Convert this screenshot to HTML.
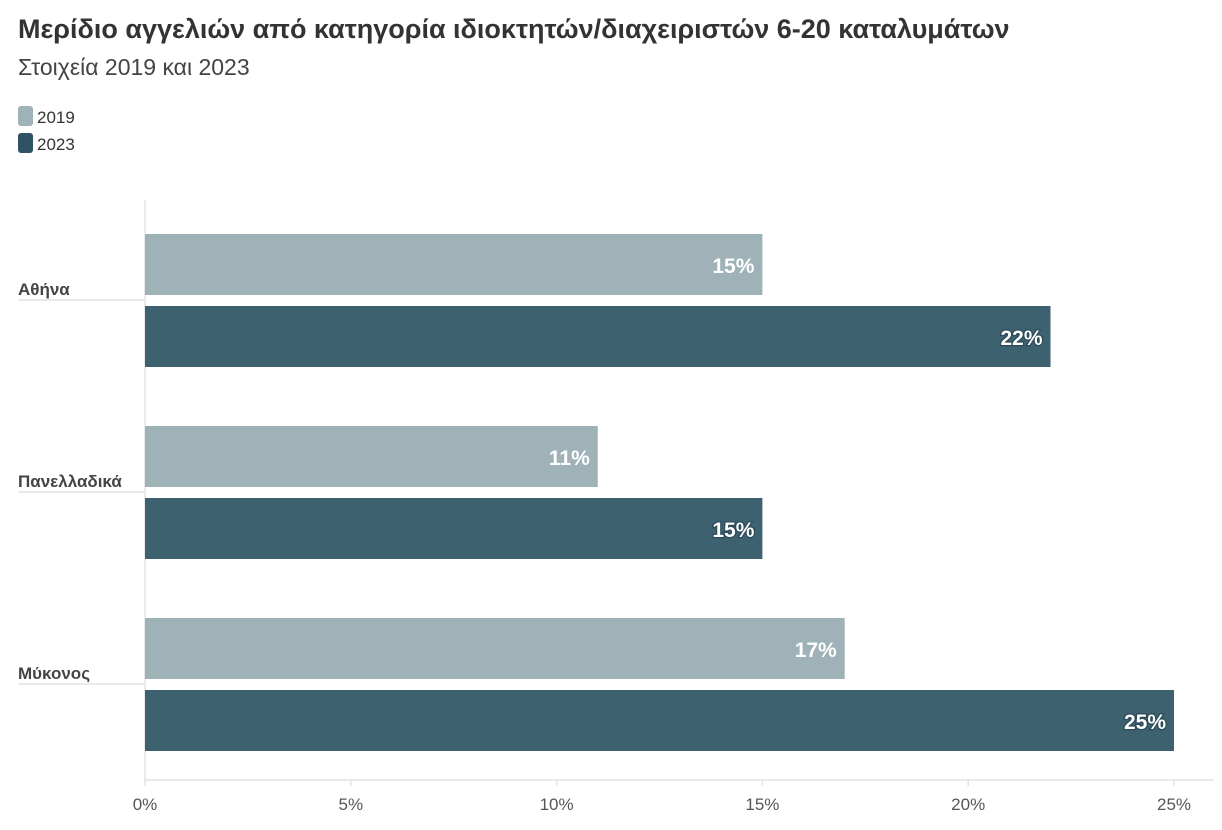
<!DOCTYPE html>
<html><head><meta charset="utf-8"><style>
body{margin:0;background:#fff;width:1222px;height:825px;overflow:hidden;font-family:"Liberation Sans","DejaVu Sans",sans-serif}
</style></head><body>
<svg width="1222" height="825" xmlns="http://www.w3.org/2000/svg">
<text x="18" y="38" font-size="27" font-weight="bold" fill="#333">Μερίδιο αγγελιών από κατηγορία ιδιοκτητών/διαχειριστών 6-20 καταλυμάτων</text>
<text x="18" y="75" font-size="23" fill="#444">Στοιχεία 2019 και 2023</text>
<g>
<rect x="18" y="106" width="15" height="20" rx="3" fill="#9fb2b7"/>
<text x="37" y="123" font-size="17" fill="#333">2019</text>
<rect x="18" y="133" width="15" height="20" rx="3" fill="#2f5264"/>
<text x="37" y="150" font-size="17" fill="#333">2023</text>
</g>
<g id="plot"></g>
</svg>
<script>
const categories=["Αθήνα","Πανελλαδικά","Μύκονος"];
const values2019=[15,11,17];
const values2023=[22,15,25];
const tickValues=[0,5,10,15,20,25];
const tickLabels=["0%","5%","10%","15%","20%","25%"];
const NS="http://www.w3.org/2000/svg";
const g=document.getElementById("plot");
const x0=145,x1=1174,xmax=25;
const xs=v=>x0+(x1-x0)*v/xmax;
const groupTop=i=>234+i*192;
function el(t,a){const e=document.createElementNS(NS,t);for(const k in a)e.setAttribute(k,a[k]);g.appendChild(e);return e;}
const ax=el("line",{x1:x0,y1:200,x2:x0,y2:781,stroke:"#e4e4e4","stroke-width":1.5});


const bx=el("line",{x1:x0,y1:780,x2:1214,y2:780,stroke:"#e4e4e4","stroke-width":1.5});


tickValues.forEach((v,i)=>{
 const tk=el("line",{x1:xs(v),y1:780,x2:xs(v),y2:786,stroke:"#e4e4e4","stroke-width":1.5});
 
 
 const t=el("text",{x:xs(v),y:810,"font-size":17,fill:"#555","text-anchor":"middle"});
 t.textContent=tickLabels[i];
 
 
});
categories.forEach((c,i)=>{
 const top=groupTop(i);
 const lb=el("text",{x:18,y:top+61,"font-size":17,"font-weight":"bold",fill:"#444"});
 lb.textContent=c;
 
 
 const sep=el("line",{x1:18,y1:top+66,x2:x0,y2:top+66,stroke:"#e4e4e4","stroke-width":1.5});
 
 
 [[values2019[i],"#9fb2b7",top,"bar-2019"],[values2023[i],"#3d616f",top+72,"bar-2023"]].forEach(([v,col,y,n])=>{
  const r=el("rect",{x:x0,y:y,width:xs(v)-x0,height:61,fill:col});
  
  
  const t=el("text",{x:xs(v)-8,y:y+39,"font-size":21,"font-weight":"bold",fill:"#fff","text-anchor":"end",stroke:"#2c4a57","stroke-width":n==="bar-2023"?2.5:0,"paint-order":"stroke"});
  t.textContent=v+"%";
  
  
 });
});
</script>
</body></html>
